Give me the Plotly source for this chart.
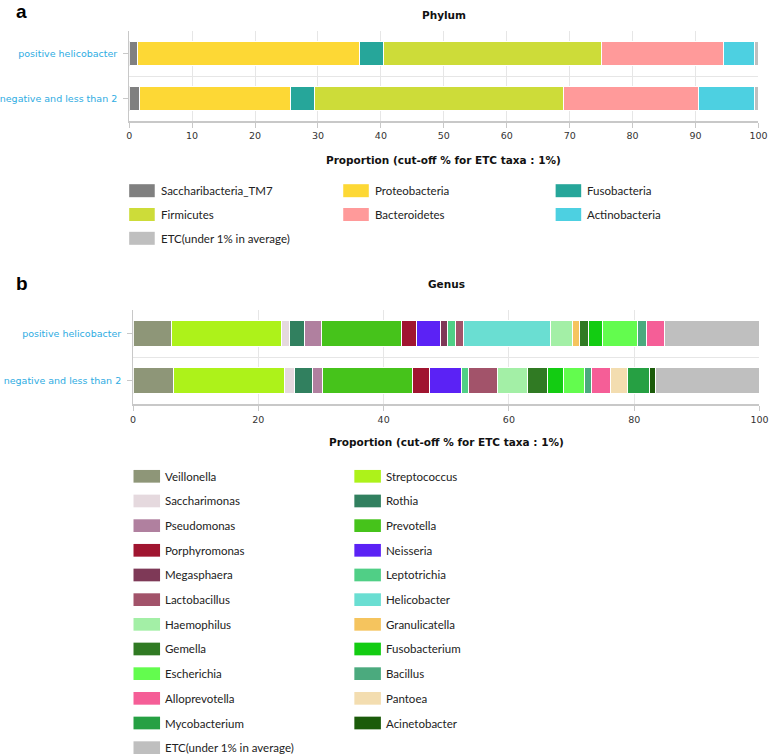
import plotly.graph_objects as go

W, H = 778, 755

groups = ["positive helicobacter", "negative and less than 2"]

phylum_names = ["Saccharibacteria_TM7", "Proteobacteria", "Fusobacteria", "Firmicutes",
                "Bacteroidetes", "Actinobacteria", "ETC(under 1% in average)"]
phylum_positive = [1.3, 35.3, 3.8, 34.6, 19.4, 5.0, 0.6]
phylum_negative = [1.6, 24.0, 3.8, 39.6, 21.5, 8.9, 0.6]
phylum_colors = ["#808080", "#FDD835", "#26A69A", "#CDDC39", "#FF9A9A", "#4DD0E1", "#BFBFBF"]

genus_names = ["Veillonella", "Streptococcus", "Saccharimonas", "Rothia", "Pseudomonas",
               "Prevotella", "Porphyromonas", "Neisseria", "Megasphaera", "Leptotrichia",
               "Lactobacillus", "Helicobacter", "Haemophilus", "Granulicatella", "Gemella",
               "Fusobacterium", "Escherichia", "Bacillus", "Alloprevotella", "Pantoea",
               "Mycobacterium", "Acinetobacter", "ETC(under 1% in average)"]
genus_positive = [6.1, 17.6, 1.2, 2.4, 2.7, 12.9, 2.3, 3.9, 1.1, 1.3, 1.2, 14.0, 3.5,
                  1.1, 1.4, 2.3, 5.5, 1.4, 3.0, 0.0, 0.0, 0.0, 15.1]
genus_negative = [6.5, 17.7, 1.6, 2.8, 1.6, 14.4, 2.8, 5.0, 0.0, 1.2, 4.5, 0.0, 4.9,
                  0.0, 3.2, 2.5, 3.4, 1.1, 3.0, 2.8, 3.4, 1.0, 16.6]
genus_colors = ["#8E9678", "#ADF21A", "#E5D9DE", "#31805F", "#B0809F", "#46C31B",
                "#A01530", "#5B22F5", "#7E3957", "#50CF86", "#A2536A", "#6ADED2",
                "#A3EFA6", "#F5C45E", "#307A23", "#13CC12", "#63FC4E", "#4BAA7E",
                "#F55E97", "#F3DDB0", "#26A043", "#1B5B0A", "#BFBFBF"]

phylum_ticks = [0, 10, 20, 30, 40, 50, 60, 70, 80, 90, 100]
genus_ticks = [0, 20, 40, 60, 80, 100]

axis_title = "Proportion (cut-off % for ETC taxa : 1%)"


def px(x):
    return x / W


def py(y):
    return 1 - y / H


y_pos = list(range(len(groups)))[::-1]

fig = go.Figure()

for name, a, b, c in zip(phylum_names, phylum_positive, phylum_negative, phylum_colors):
    fig.add_trace(go.Bar(
        x=[a, b], y=y_pos, orientation="h", name=name, width=0.55,
        marker=dict(color=c, line=dict(color="white", width=1)),
        xaxis="x", yaxis="y", showlegend=False))

for name, a, b, c in zip(genus_names, genus_positive, genus_negative, genus_colors):
    fig.add_trace(go.Bar(
        x=[a, b], y=y_pos, orientation="h", name=name, width=0.55,
        marker=dict(color=c, line=dict(color="white", width=1)),
        xaxis="x2", yaxis="y2", showlegend=False))

tick_font = dict(family="DejaVu Sans", size=9.5, color="#333333")
ylab_font = dict(family="DejaVu Sans", size=9.5, color="#2EACE2")


def xaxis_cfg(domain, ticks, anchor):
    return dict(domain=domain, range=[0, 100], tickmode="array", tickvals=ticks,
                showgrid=True, gridcolor="#E6E6E6", gridwidth=1, zeroline=False,
                showline=True, linecolor="#C8C8C8", linewidth=2,
                ticks="outside", ticklen=5, tickcolor="#C8C8C8",
                tickfont=tick_font, anchor=anchor, fixedrange=True)


def yaxis_cfg(domain, anchor):
    return dict(domain=domain, range=[-0.5, len(groups) - 0.5], tickmode="array",
                tickvals=y_pos, ticktext=groups, showgrid=False, zeroline=False,
                showline=True, linecolor="#C8C8C8", linewidth=1,
                ticks="outside", ticklen=5, tickcolor="#C8C8C8", ticklabelstandoff=4,
                minor=dict(tickmode="array", tickvals=[-0.5, 0.5, 1.5], showgrid=True,
                           gridcolor="#E6E6E6", ticks=""),
                tickfont=ylab_font, anchor=anchor, fixedrange=True)


fig.update_layout(
    width=W, height=H,
    margin=dict(l=0, r=0, t=0, b=0),
    paper_bgcolor="white", plot_bgcolor="white",
    barmode="stack", bargap=0, showlegend=False,
    xaxis=xaxis_cfg([px(127.3), px(767.3)], phylum_ticks, "y"),
    yaxis=yaxis_cfg([py(121), py(31)], "x"),
    xaxis2=xaxis_cfg([px(131.3), px(768.3)], genus_ticks, "y2"),
    yaxis2=yaxis_cfg([py(404.3), py(310)], "x2"),
)

bold = dict(family="DejaVu Sans", size=10.5, color="#111111", weight="bold")

fig.add_annotation(x=px(447.3), y=py(15), xref="paper", yref="paper", text="Phylum",
                   showarrow=False, xanchor="center", yanchor="middle", font=bold)
fig.add_annotation(x=px(449.8), y=py(284), xref="paper", yref="paper", text="Genus",
                   showarrow=False, xanchor="center", yanchor="middle", font=bold)
fig.add_annotation(x=px(447.3), y=py(160), xref="paper", yref="paper", text=axis_title,
                   showarrow=False, xanchor="center", yanchor="middle", font=bold)
fig.add_annotation(x=px(449.8), y=py(442), xref="paper", yref="paper", text=axis_title,
                   showarrow=False, xanchor="center", yanchor="middle", font=bold)

panel_font = dict(family="Liberation Sans", size=19, color="black", weight="bold")
fig.add_annotation(x=px(10), y=py(11), xref="paper", yref="paper", text="a",
                   showarrow=False, xanchor="left", yanchor="middle", font=panel_font)
fig.add_annotation(x=px(10), y=py(283), xref="paper", yref="paper", text="b",
                   showarrow=False, xanchor="left", yanchor="middle", font=panel_font)

legend_font = dict(family="Lato", size=11.5, color="#222222")


def add_legend(names, colors, x0s, y0, dy, sw, sh):
    ncol = len(x0s)
    for i, (n, c) in enumerate(zip(names, colors)):
        r, col = divmod(i, ncol)
        xl = x0s[col]
        yc = y0 + r * dy
        fig.add_shape(type="rect", xref="paper", yref="paper",
                      x0=px(xl), x1=px(xl + sw), y0=py(yc + sh / 2), y1=py(yc - sh / 2),
                      fillcolor=c, line_width=0)
        fig.add_annotation(x=px(xl + 30), y=py(yc), xref="paper", yref="paper", text=n,
                           showarrow=False, xanchor="left", yanchor="middle", font=legend_font)


add_legend(phylum_names, phylum_colors, [127.3, 345, 561], 190.7, 23.8, 26, 13)
add_legend(genus_names, genus_colors, [131.7, 356.3], 476.3, 24.67, 27, 12.7)

fig.write_html(
    "out.html",
    config={"displayModeBar": False, "staticPlot": True},
    post_script="document.body.style.margin='0px';document.body.style.overflow='hidden';",
)
